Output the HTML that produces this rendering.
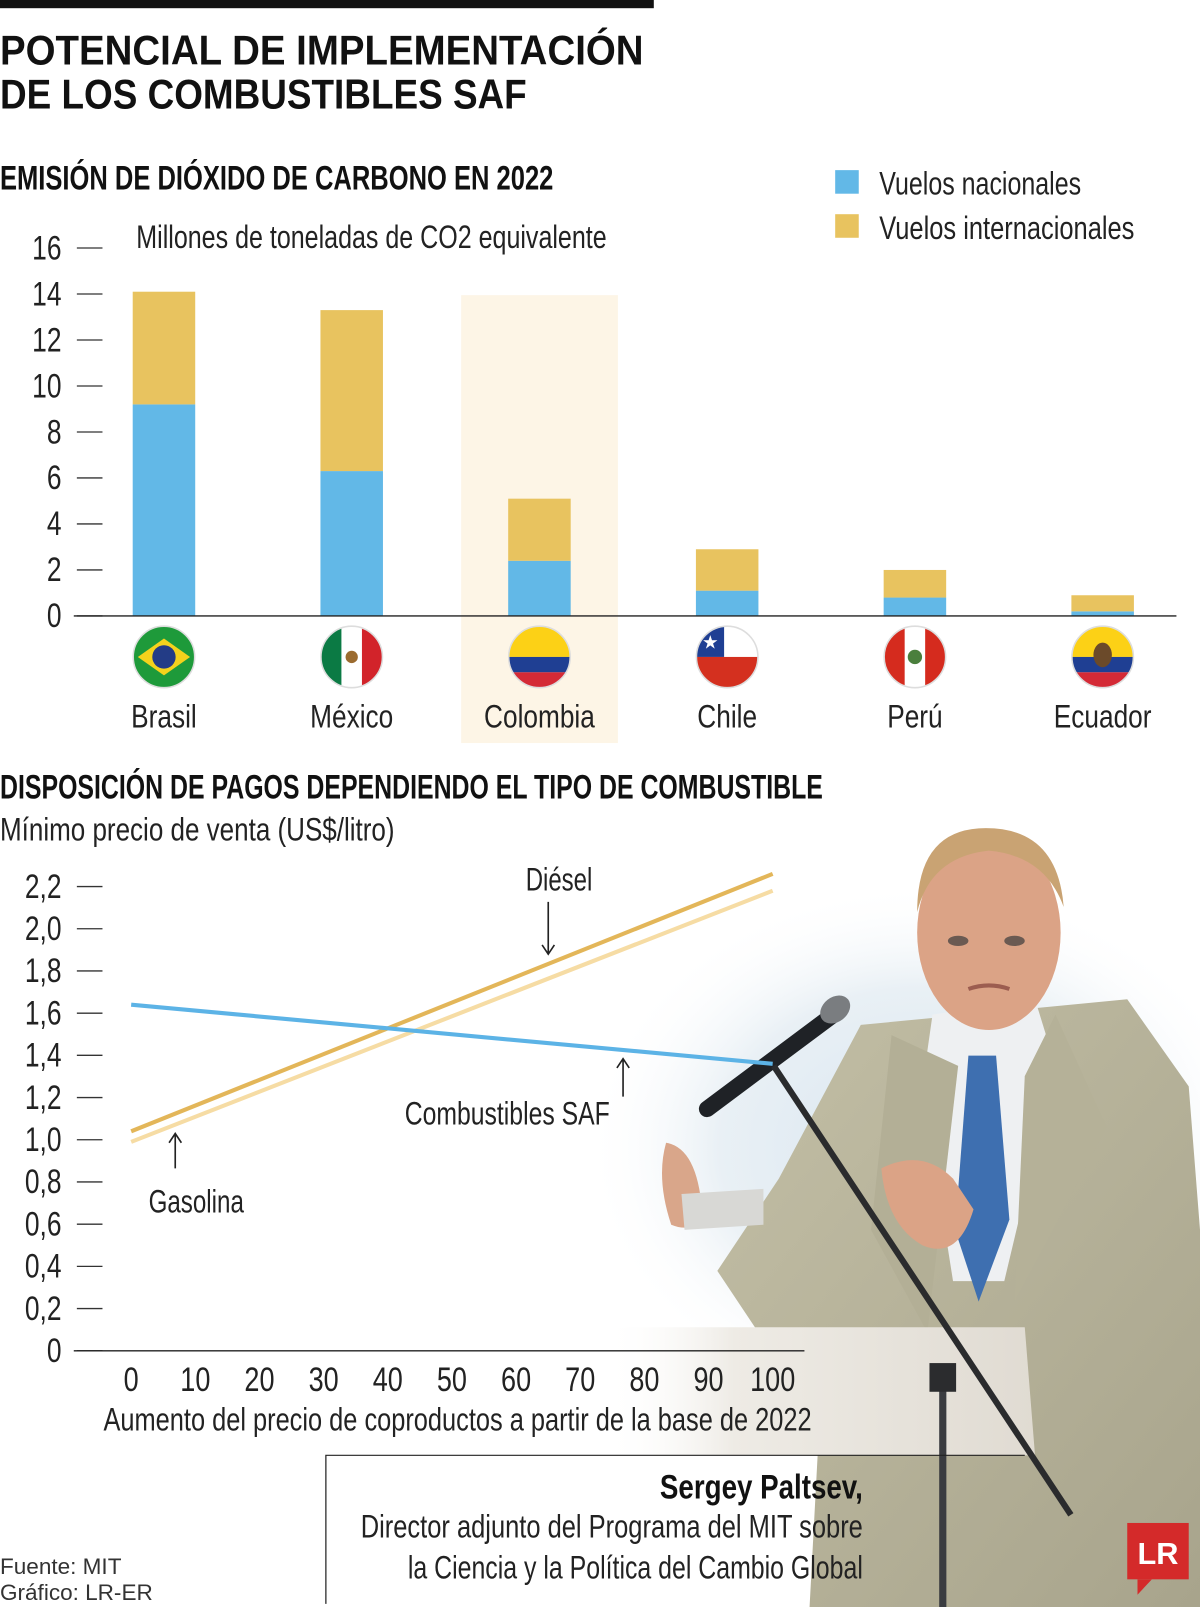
<!DOCTYPE html>
<html><head><meta charset="utf-8"><style>
html,body{margin:0;padding:0;background:#fff;}
svg{display:block;}
text{font-family:"Liberation Sans",sans-serif;}
</style></head><body>
<svg id="page" xmlns="http://www.w3.org/2000/svg" width="1200" height="1607" viewBox="0 0 1171 1568" preserveAspectRatio="none">
<defs>
  <radialGradient id="haze" cx="0.5" cy="0.5" r="0.5"><stop offset="0" stop-color="#d9e6f0"/><stop offset="0.6" stop-color="#e9f0f5"/><stop offset="1" stop-color="#ffffff" stop-opacity="0"/></radialGradient>
  <linearGradient id="suit" x1="0" y1="0" x2="1" y2="1"><stop offset="0" stop-color="#c3bfa6"/><stop offset="1" stop-color="#a8a48c"/></linearGradient>
  <linearGradient id="lect" x1="0" y1="0" x2="1" y2="0"><stop offset="0" stop-color="#ffffff" stop-opacity="0"/><stop offset="0.3" stop-color="#eeebe5"/><stop offset="1" stop-color="#e0dbd2"/></linearGradient>
</defs>

<g>
  <ellipse cx="900" cy="1120" rx="330" ry="260" fill="url(#haze)"/>
  <path d="M840 1000 L1100 975 L1160 1060 L1171 1200 L1171 1568 L790 1568 L800 1380 L740 1300 L700 1240 L760 1150 Z" fill="url(#suit)"/>
  <path d="M910 990 L1010 975 L1030 1040 L980 1250 L930 1250 L900 1060 Z" fill="#eef0f2"/>
  <path d="M945 1030 L972 1030 L985 1190 L955 1270 L932 1200 Z" fill="#3e6fb0"/>
  <path d="M870 1010 L935 1040 L905 1300 L850 1200 Z" fill="#b3af96"/>
  <path d="M1030 990 L1000 1050 L990 1270 L1080 1100 Z" fill="#b5b198"/>
  <ellipse cx="965" cy="910" rx="70" ry="95" fill="#dba386"/>
  <path d="M895 890 Q895 808 962 808 Q1032 808 1038 885 Q1020 835 965 830 Q908 836 895 890 Z" fill="#c9a373"/>
  <ellipse cx="935" cy="918" rx="10" ry="5" fill="#6b5a52"/>
  <ellipse cx="990" cy="918" rx="10" ry="5" fill="#6b5a52"/>
  <path d="M945 965 Q965 958 985 965" stroke="#9c5d50" stroke-width="4" fill="none"/>
  <path d="M860 1140 Q900 1120 930 1150 L950 1180 Q935 1230 900 1215 Q865 1195 860 1140 Z" fill="#dba386"/>
  <path d="M650 1115 Q680 1120 685 1180 Q680 1205 655 1195 Q640 1150 650 1115 Z" fill="#d9a68a"/>
  <path d="M590 1295 L1000 1295 L1010 1420 L600 1420 Z" fill="url(#lect)"/>
  <path d="M665 1165 L745 1160 L745 1195 L668 1200 Z" fill="#d8d8d5"/>
  <line x1="690" y1="1082" x2="820" y2="985" stroke="#1f2226" stroke-width="16" stroke-linecap="round"/>
  <ellipse cx="815" cy="985" rx="16" ry="12" fill="#7a7d80" transform="rotate(-38 815 985)"/>
  <line x1="755" y1="1040" x2="1045" y2="1478" stroke="#2a2b2d" stroke-width="6"/>
  <line x1="920" y1="1340" x2="920" y2="1568" stroke="#3a3c40" stroke-width="7"/>
  <rect x="907" y="1330" width="26" height="28" fill="#2b2c2e"/>
</g>

<rect x="0" y="0" width="638" height="8" fill="#111"/>
<text x="0" y="63" font-size="41" font-weight="bold" fill="#111" textLength="628" lengthAdjust="spacingAndGlyphs">POTENCIAL DE IMPLEMENTACIÓN</text>
<text x="0" y="106" font-size="41" font-weight="bold" fill="#111" textLength="514" lengthAdjust="spacingAndGlyphs">DE LOS COMBUSTIBLES SAF</text>
<text x="0" y="185" font-size="33" font-weight="bold" fill="#111" textLength="540" lengthAdjust="spacingAndGlyphs">EMISIÓN DE DIÓXIDO DE CARBONO EN 2022</text>

<g>
  <rect x="815" y="166" width="23" height="23" fill="#62b8e7"/>
  <text x="858" y="190" font-size="32" fill="#222" textLength="197" lengthAdjust="spacingAndGlyphs">Vuelos nacionales</text>
  <rect x="815" y="209" width="23" height="23" fill="#e8c35f"/>
  <text x="858" y="233" font-size="32" fill="#222" textLength="249" lengthAdjust="spacingAndGlyphs">Vuelos internacionales</text>
</g>
<text x="133" y="242" font-size="32" fill="#222" textLength="459" lengthAdjust="spacingAndGlyphs">Millones de toneladas de CO2 equivalente</text>

<rect x="450" y="288" width="153" height="437" fill="#fdf5e6"/>
<g id="chart1"></g>

<text x="0" y="779" font-size="33" font-weight="bold" fill="#111" textLength="803" lengthAdjust="spacingAndGlyphs">DISPOSICIÓN DE PAGOS DEPENDIENDO EL TIPO DE COMBUSTIBLE</text>
<text x="0" y="820" font-size="32" fill="#222" textLength="385" lengthAdjust="spacingAndGlyphs">Mínimo precio de venta (US$/litro)</text>
<g id="chart2"></g>
<text x="101" y="1396" font-size="32" fill="#222" textLength="691" lengthAdjust="spacingAndGlyphs">Aumento del precio de coproductos a partir de la base de 2022</text>

<g>
  <text x="513" y="869" font-size="32" fill="#222" textLength="65" lengthAdjust="spacingAndGlyphs">Diésel</text>
  <path d="M535 880 V931 M529 922 L535 931 L541 922" stroke="#222" stroke-width="1.6" fill="none"/>
  <text x="395" y="1097" font-size="32" fill="#222" textLength="200" lengthAdjust="spacingAndGlyphs">Combustibles SAF</text>
  <path d="M608 1070 V1033 M602 1042 L608 1033 L614 1042" stroke="#222" stroke-width="1.6" fill="none"/>
  <text x="145" y="1183" font-size="32" fill="#222" textLength="93" lengthAdjust="spacingAndGlyphs">Gasolina</text>
  <path d="M171 1140 V1106 M165 1115 L171 1106 L177 1115" stroke="#222" stroke-width="1.6" fill="none"/>
</g>

<g>
  <path d="M318 1565 V1420 H1000" stroke="#222" stroke-width="1.2" fill="none"/>
  <text x="842" y="1462" font-size="33" font-weight="bold" fill="#111" text-anchor="end" textLength="198" lengthAdjust="spacingAndGlyphs">Sergey Paltsev,</text>
  <text x="842" y="1500" font-size="32" fill="#222" text-anchor="end" textLength="490" lengthAdjust="spacingAndGlyphs">Director adjunto del Programa del MIT sobre</text>
  <text x="842" y="1540" font-size="32" fill="#222" text-anchor="end" textLength="444" lengthAdjust="spacingAndGlyphs">la Ciencia y la Política del Cambio Global</text>
</g>
<text x="0" y="1536" font-size="22" fill="#333">Fuente: MIT</text>
<text x="0" y="1561" font-size="22" fill="#333">Gráfico: LR-ER</text>
<g>
  <rect x="1100" y="1486" width="60" height="55" fill="#d42a2a"/>
  <path d="M1110 1541 L1110 1556 L1124 1541 Z" fill="#d42a2a"/>
  <text x="1130" y="1526" font-family="Liberation Serif,serif" font-size="30" font-weight="bold" fill="#fff" text-anchor="middle">LR</text>
</g>

<script>
const countries = ["Brasil","México","Colombia","Chile","Perú","Ecuador"];
const nacionales = [9.2, 6.3, 2.4, 1.1, 0.8, 0.2];
const internacionales = [4.9, 7.0, 2.7, 1.8, 1.2, 0.7];
const yTicks1 = [0,2,4,6,8,10,12,14,16];
const xTicks2 = [0,10,20,30,40,50,60,70,80,90,100];
const yTicks2 = [0,0.2,0.4,0.6,0.8,1.0,1.2,1.4,1.6,1.8,2.0,2.2];
const yTickLabels2 = ["0","0,2","0,4","0,6","0,8","1,0","1,2","1,4","1,6","1,8","2,0","2,2"];
const lineX = [0, 100];
const dieselY = [1.04, 2.26];
const gasolinaY = [0.99, 2.18];
const safY = [1.64, 1.36];

const NS = "http://www.w3.org/2000/svg";
function mk(tag, attrs, parent){ const e=document.createElementNS(NS,tag); for(const k in attrs) e.setAttribute(k,attrs[k]); parent.appendChild(e); return e; }
function ctext(parent, x, y, str, size, anchor, sx){
  const g = mk("g",{transform:`translate(${x},${y}) scale(${sx},1)`},parent);
  const t = mk("text",{x:0,y:0,"font-size":size,fill:"#222","text-anchor":anchor},g);
  t.textContent = str; return g;
}

const c1 = document.getElementById("chart1");
const y1 = v => 601 - v * (359/16);
const x1 = i => 160 + i * 183.2;
yTicks1.forEach(v => {
  const g = ctext(c1, 60, y1(v)+11, String(v), 33, "end", 0.78);
  
  
  const l = mk("line",{x1:75,x2:100,y1:y1(v),y2:y1(v),stroke:"#333","stroke-width":1.3},c1);
  
  
});
countries.forEach((c,i) => {
  const cx = x1(i), w = 61;
  const b1 = mk("rect",{x:cx-w/2,y:y1(nacionales[i]),width:w,height:y1(0)-y1(nacionales[i]),fill:"#62b8e7"},c1);
  
  
  const tot = nacionales[i] + internacionales[i];
  const b2 = mk("rect",{x:cx-w/2,y:y1(tot),width:w,height:y1(nacionales[i])-y1(tot),fill:"#e8c35f"},c1);
  
  
  const lab = ctext(c1, cx, 710, c, 32, "middle", 0.8);
  
  
  drawFlag(c1, i, cx, 641, 30);
});
const ax1 = mk("line",{x1:72,x2:1148,y1:601,y2:601,stroke:"#222","stroke-width":1.3},c1);



function drawFlag(parent, i, cx, cy, r){
  const g = mk("g",{},parent);
  
  
  const id = "fc"+i;
  const cp = mk("clipPath",{id:id},g); mk("circle",{cx:cx,cy:cy,r:r},cp);
  const f = mk("g",{"clip-path":`url(#${id})`},g);
  const L=cx-r, T=cy-r, D=2*r;
  if(i===0){ mk("rect",{x:L,y:T,width:D,height:D,fill:"#1e9a3a"},f);
    mk("path",{d:`M${cx-r*0.85} ${cy} L${cx} ${cy-r*0.6} L${cx+r*0.85} ${cy} L${cx} ${cy+r*0.6} Z`,fill:"#f4d21c"},f);
    mk("circle",{cx:cx,cy:cy,r:r*0.38,fill:"#233c86"},f);}
  if(i===1){ mk("rect",{x:L,y:T,width:D/3,height:D,fill:"#0b7a44"},f); mk("rect",{x:L+D/3,y:T,width:D/3,height:D,fill:"#fff"},f); mk("rect",{x:L+2*D/3,y:T,width:D/3,height:D,fill:"#d2232a"},f); mk("circle",{cx:cx,cy:cy,r:6,fill:"#9b6b2f"},f);}
  if(i===2){ mk("rect",{x:L,y:T,width:D,height:D/2,fill:"#fcd116"},f); mk("rect",{x:L,y:cy,width:D,height:D/4,fill:"#1f3f93"},f); mk("rect",{x:L,y:cy+D/4,width:D,height:D/4,fill:"#d42a36"},f);}
  if(i===3){ mk("rect",{x:L,y:T,width:D,height:D/2,fill:"#fff"},f); mk("rect",{x:L,y:T,width:D*0.45,height:D/2,fill:"#1f3f93"},f); mk("rect",{x:L,y:cy,width:D,height:D/2,fill:"#d4301f"},f); mk("text",{x:L+D*0.225,y:cy-8,"font-size":18,fill:"#fff","text-anchor":"middle"},f).textContent="★";}
  if(i===4){ mk("rect",{x:L,y:T,width:D,height:D,fill:"#fff"},f); mk("rect",{x:L,y:T,width:D/3,height:D,fill:"#d52b1e"},f); mk("rect",{x:L+2*D/3,y:T,width:D/3,height:D,fill:"#d52b1e"},f); mk("circle",{cx:cx,cy:cy,r:7,fill:"#4a7f3d"},f);}
  if(i===5){ mk("rect",{x:L,y:T,width:D,height:D/2,fill:"#fcd116"},f); mk("rect",{x:L,y:cy,width:D,height:D/4,fill:"#1f3f93"},f); mk("rect",{x:L,y:cy+D/4,width:D,height:D/4,fill:"#d42a36"},f); mk("ellipse",{cx:cx,cy:cy-2,rx:9,ry:12,fill:"#6b4a2a"},f);}
  mk("circle",{cx:cx,cy:cy,r:r,fill:"none",stroke:"#ddd","stroke-width":1.5},g);
}

const c2 = document.getElementById("chart2");
const y2 = v => 1318 - v * 205.9;
const x2 = v => 128 + v * 6.26;
yTicks2.forEach((v,k) => {
  const g = ctext(c2, 60, y2(v)+11, yTickLabels2[k], 33, "end", 0.78);
  
  
  const l = mk("line",{x1:75,x2:100,y1:y2(v),y2:y2(v),stroke:"#333","stroke-width":1.3},c2);
  
  
});
xTicks2.forEach(v => {
  const g = ctext(c2, x2(v), 1357, String(v), 33, "middle", 0.8);
  
  
});
const ax2 = mk("line",{x1:72,x2:785,y1:1318,y2:1318,stroke:"#222","stroke-width":1.3},c2);


function series(ys, color, name){
  const pts = lineX.map((x,k)=>`${x2(x)},${y2(ys[k])}`).join(" ");
  const p = mk("polyline",{points:pts,fill:"none",stroke:color,"stroke-width":4},c2);
  
  
}
series(gasolinaY, "#f6dca4", "gasolina-line");
series(dieselY, "#e3b659", "diesel-line");
series(safY, "#5cb3e6", "saf-line");
</script>
</svg>
</body></html>
